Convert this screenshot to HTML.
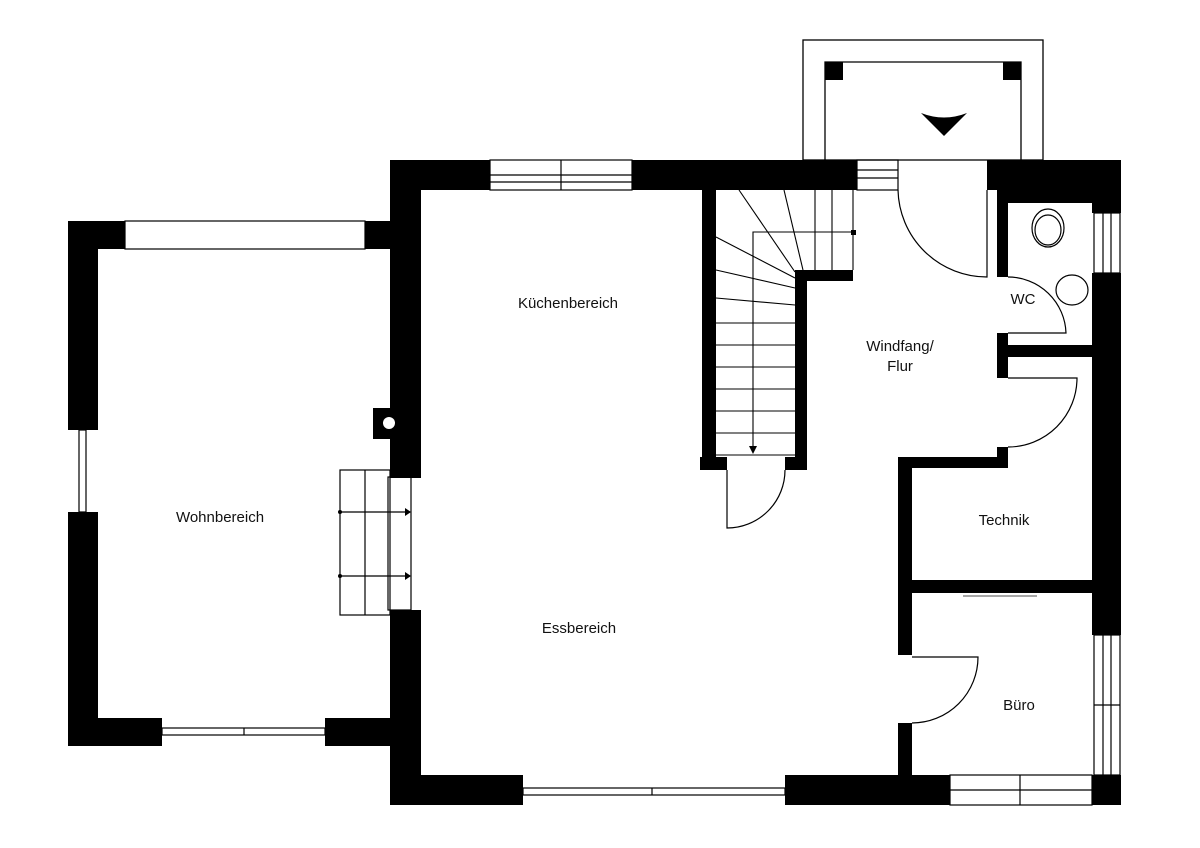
<!DOCTYPE html>
<html><head><meta charset="utf-8"><style>
html,body{margin:0;padding:0;background:#fff}
svg{display:block}
text{font-family:"Liberation Sans",sans-serif;font-size:15px;fill:#111}
</style></head><body>
<svg width="1200" height="848" viewBox="0 0 1200 848" xmlns="http://www.w3.org/2000/svg">
<rect width="1200" height="848" fill="#fff"/>
<g fill="none" stroke="#000" stroke-width="1.3">
<!-- porch -->
<rect x="803" y="40" width="240" height="120"/>
<polyline points="825,160 825,62 1021,62 1021,160"/>
</g>
<g fill="#000">
<rect x="825" y="62" width="18" height="18"/><rect x="1003" y="62" width="18" height="18"/>
<path d="M921,113 Q944,122 967,113 L944,136 Z"/>
<!-- main top wall -->
<rect x="390" y="160" width="100" height="30"/>
<rect x="632" y="160" width="225" height="30"/>
<rect x="987" y="160" width="134" height="30"/>
<rect x="997" y="190" width="124" height="13"/>
<rect x="997" y="190" width="11" height="87"/>
<!-- left main wall -->
<rect x="390" y="160" width="31" height="318"/>
<rect x="373" y="408" width="18" height="31"/>
<rect x="390" y="610" width="31" height="195"/>
<!-- wohn -->
<rect x="68" y="221" width="57" height="28"/>
<rect x="365" y="221" width="26" height="28"/>
<rect x="68" y="221" width="30" height="209"/>
<rect x="68" y="512" width="30" height="234"/>
<rect x="68" y="718" width="94" height="28"/>
<rect x="325" y="718" width="66" height="28"/>
<!-- bottom -->
<rect x="390" y="775" width="133" height="30"/>
<rect x="785" y="775" width="165" height="30"/>
<rect x="1092" y="775" width="29" height="30"/>
<!-- right -->
<rect x="1092" y="190" width="29" height="23"/>
<rect x="1092" y="273" width="29" height="362"/>
<!-- stair -->
<rect x="702" y="190" width="14" height="280"/>
<rect x="700" y="457" width="27" height="13"/>
<rect x="785" y="457" width="22" height="13"/>
<rect x="795" y="270" width="12" height="200"/>
<rect x="795" y="270" width="58" height="11"/>
<!-- interior -->
<rect x="997" y="333" width="11" height="45"/>
<rect x="1008" y="345" width="84" height="12"/>
<rect x="997" y="447" width="11" height="21"/>
<rect x="898" y="457" width="110" height="11"/>
<rect x="898" y="457" width="14" height="126"/>
<rect x="898" y="580" width="194" height="13"/>
<rect x="898" y="593" width="14" height="62"/>
<rect x="898" y="723" width="14" height="52"/>
<circle cx="389" cy="423" r="6" fill="#fff"/>
</g>
<g fill="none" stroke="#000" stroke-width="1.2">
<!-- windows -->
<rect x="490" y="160" width="142" height="30"/><line x1="490" y1="175" x2="632" y2="175"/><line x1="490" y1="182" x2="632" y2="182"/><line x1="561" y1="160" x2="561" y2="190"/>
<rect x="857" y="160" width="41" height="30"/><line x1="857" y1="170" x2="898" y2="170"/><line x1="857" y1="178" x2="898" y2="178"/>
<rect x="125" y="221" width="240" height="28"/>
<rect x="79" y="430" width="7" height="82"/>
<rect x="162" y="728" width="163" height="7"/><line x1="244" y1="728" x2="244" y2="735"/>
<rect x="523" y="788" width="262" height="7"/><line x1="652" y1="788" x2="652" y2="795"/>
<rect x="950" y="775" width="142" height="30"/><line x1="950" y1="790" x2="1092" y2="790"/><line x1="1020" y1="775" x2="1020" y2="805"/>
<rect x="1094" y="213" width="26" height="60"/><line x1="1103" y1="213" x2="1103" y2="273"/><line x1="1111" y1="213" x2="1111" y2="273"/>
<rect x="1094" y="635" width="26" height="140"/><line x1="1103" y1="635" x2="1103" y2="775"/><line x1="1111" y1="635" x2="1111" y2="775"/><line x1="1094" y1="705" x2="1120" y2="705"/>
<!-- stair treads -->
<g stroke-width="1.1">
<line x1="716" y1="323" x2="795" y2="323"/><line x1="716" y1="345" x2="795" y2="345"/><line x1="716" y1="367" x2="795" y2="367"/><line x1="716" y1="389" x2="795" y2="389"/><line x1="716" y1="411" x2="795" y2="411"/><line x1="716" y1="433" x2="795" y2="433"/><line x1="716" y1="455" x2="795" y2="455"/>
<line x1="815" y1="190" x2="815" y2="270"/><line x1="832" y1="190" x2="832" y2="270"/><line x1="853" y1="190" x2="853" y2="270"/>
<line x1="739" y1="190" x2="795" y2="272"/><line x1="784" y1="190" x2="803" y2="270"/>
<line x1="716" y1="237" x2="795" y2="278"/><line x1="716" y1="270" x2="795" y2="288"/><line x1="716" y1="298" x2="795" y2="305"/>
<polyline points="853,232 753,232 753,448"/>
</g>
<!-- outside stair -->
<rect x="340" y="470" width="50" height="145"/><line x1="365" y1="470" x2="365" y2="615"/>
<rect x="388" y="477" width="23" height="133"/>
<line x1="340" y1="512" x2="410" y2="512"/><line x1="340" y1="576" x2="410" y2="576"/>
<!-- doors -->
<path d="M727,470 L727,528 A58,58 0 0 0 785,470"/>
<path d="M898,190 A89,89 0 0 0 987,277 L987,190"/>
<path d="M1008,277 A58,58 0 0 1 1066,333 L1008,333"/>
<path d="M1008,378 L1077,378 A69,69 0 0 1 1008,447"/>
<path d="M912,657 L978,657 A66,66 0 0 1 912,723"/>
<!-- WC fixtures -->
<ellipse cx="1048" cy="228" rx="16" ry="19"/><ellipse cx="1048" cy="230" rx="13" ry="15"/>
<ellipse cx="1072" cy="290" rx="16" ry="15"/>
</g>
<g fill="#000">
<polygon points="749,446 757,446 753,454"/>
<rect x="851" y="230" width="5" height="5"/>
<polygon points="405,508 411,512 405,516"/><polygon points="405,572 411,576 405,580"/>
<circle cx="340" cy="512" r="2"/><circle cx="340" cy="576" r="2"/>
</g>
<line x1="963" y1="596" x2="1037" y2="596" stroke="#888" stroke-width="1.5"/>
<text x="568" y="308" text-anchor="middle">Küchenbereich</text>
<text x="900" y="351" text-anchor="middle">Windfang/</text>
<text x="900" y="371" text-anchor="middle">Flur</text>
<text x="1023" y="304" text-anchor="middle">WC</text>
<text x="1004" y="525" text-anchor="middle">Technik</text>
<text x="220" y="522" text-anchor="middle">Wohnbereich</text>
<text x="579" y="633" text-anchor="middle">Essbereich</text>
<text x="1019" y="710" text-anchor="middle">Büro</text>
</svg>
</body></html>
